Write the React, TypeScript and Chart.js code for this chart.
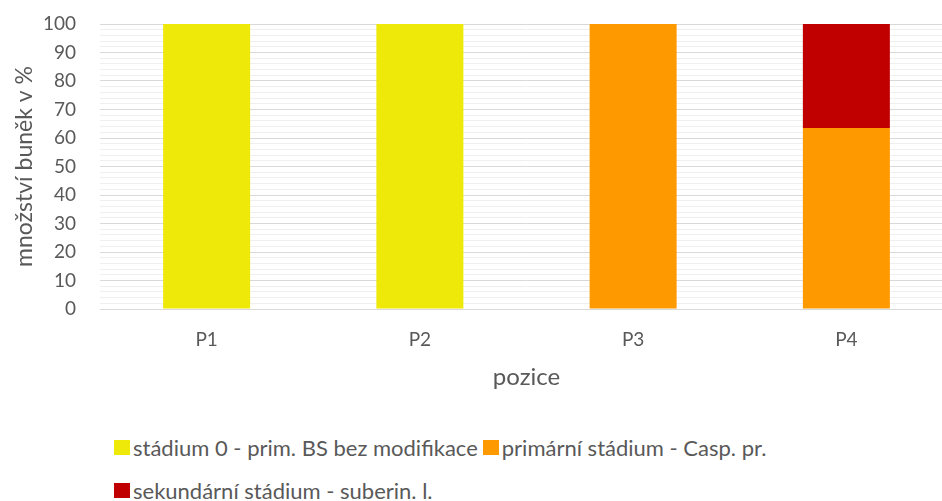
import { useEffect, useRef } from "react";
import { Chart, registerables } from "chart.js";

Chart.register(...registerables);

// Share of cells (%) in each developmental stage, per position
const categories = ["P1", "P2", "P3", "P4"];
const stage0Values = [100, 100, 0, 0];
const primaryValues = [0, 0, 100, 63.5];
const secondaryValues = [0, 0, 0, 36.5];

const seriesNames = [
  "stádium 0 - prim. BS bez modifikace",
  "primární stádium - Casp. pr.",
  "sekundární stádium - suberin. l.",
];
const seriesColors = ["#EFE90A", "#FF9900", "#C00000"];

const yTitle = "množství buněk v %";
const xTitle = "pozice";

const FONT = "Lato, Carlito, Calibri, sans-serif";
const TEXT = "#595959";

export default function App() {
  const canvasRef = useRef<HTMLCanvasElement | null>(null);

  useEffect(() => {
    const canvas = canvasRef.current;
    if (!canvas) return;
    const chart = new Chart(canvas, {
      type: "bar",
      data: {
        labels: categories,
        datasets: [stage0Values, primaryValues, secondaryValues].map((data, i) => ({
          label: seriesNames[i],
          data,
          backgroundColor: seriesColors[i],
          borderWidth: 0,
          categoryPercentage: 1,
          barPercentage: 0.408,
        })),
      },
      options: {
        responsive: false,
        animation: false,
        layout: { padding: { left: 0, right: 9, top: 24, bottom: 8 } },
        plugins: {
          legend: { display: false },
          tooltip: { enabled: false },
        },
        scales: {
          x: {
            stacked: true,
            grid: { display: false, drawTicks: false },
            border: { display: false },
            ticks: {
              color: TEXT,
              font: { family: FONT, size: 19 },
              padding: 19,
            },
            title: {
              display: true,
              text: xTitle,
              color: TEXT,
              font: { family: FONT, size: 24 },
              padding: { top: 8, bottom: 0 },
            },
            afterFit: (scale: any) => {
              scale.height = 83;
              scale.paddingLeft = 0;
              scale.paddingRight = 0;
            },
          },
          y: {
            stacked: true,
            min: 0,
            max: 100,
            border: { display: false },
            grid: {
              drawTicks: false,
              color: (ctx: any) =>
                ctx.tick && ctx.tick.value % 10 === 0 ? "#d9d9d9" : "#efefef",
              lineWidth: 1,
            },
            ticks: {
              stepSize: 2,
              autoSkip: false,
              color: TEXT,
              font: { family: FONT, size: 19 },
              padding: 24,
              callback: (v: any) => (Number(v) % 10 === 0 ? String(v) : ""),
            },
            title: {
              display: true,
              text: yTitle,
              color: TEXT,
              font: { family: FONT, size: 23 },
              padding: { top: 11, bottom: 4 },
            },
            afterFit: (scale: any) => {
              scale.width = 100;
              scale.paddingTop = 0;
              scale.paddingBottom = 0;
            },
          },
        },
      },
    });
    return () => chart.destroy();
  }, []);

  return (
    <div
      style={{
        position: "fixed",
        left: 0,
        top: 0,
        width: 942,
        height: 501,
        overflow: "hidden",
        background: "#fff",
      }}
    >
      <canvas
        ref={canvasRef}
        width={962}
        height={400}
        style={{ position: "absolute", left: 0, top: 0 }}
      />
      <div
        style={{
          position: "absolute",
          left: 114,
          top: 426,
          width: 720,
          display: "flex",
          flexWrap: "wrap",
          columnGap: 5,
          fontFamily: FONT,
          fontSize: 22,
          color: TEXT,
        }}
      >
        {seriesNames.map((name, i) => (
          <div
            key={name}
            style={{
              display: "flex",
              alignItems: "center",
              height: 43,
              whiteSpace: "nowrap",
            }}
          >
            <span
              style={{
                display: "inline-block",
                width: 16,
                height: 15,
                background: seriesColors[i],
                marginRight: 3,
              }}
            />
            {name}
          </div>
        ))}
      </div>
    </div>
  );
}
